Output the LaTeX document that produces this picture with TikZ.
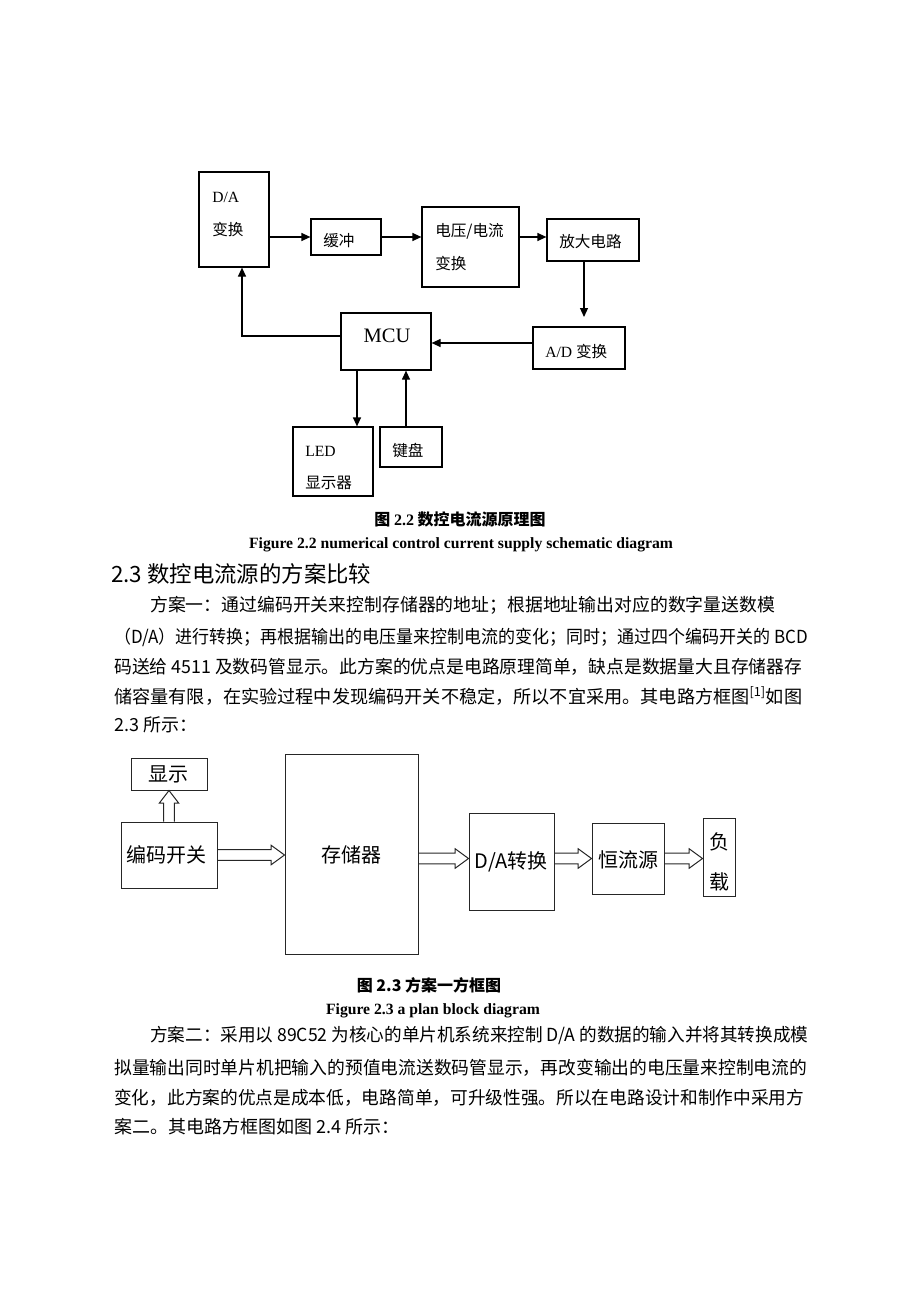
\documentclass[tikz,border=0pt]{standalone}
\usepackage{fontspec}
\usepackage{graphicx}
\setmainfont{Liberation Serif}
\newfontfamily\cjk{Noto Sans CJK SC}
\usetikzlibrary{arrows.meta,calc,fit}
\newcommand\jline[2]{\resizebox{#1}{\height}{#2}}
\begin{document}
\begin{tikzpicture}[x=0.75pt,y=-0.75pt,
  b1/.style={draw, line width=0.9pt, inner sep=0pt},
  a1/.style={line width=0.9pt, -{Triangle[length=6.75pt,width=6pt]}},
  t1/.style={anchor=west, inner sep=0pt, font=\fontsize{11.7pt}{14pt}\selectfont},
  b2/.style={draw=black!85, line width=0.75pt, inner sep=0pt},
  t2/.style={inner sep=0pt, font=\cjk\fontsize{15pt}{18pt}\selectfont},
  h2/.style={draw=black!85, line width=0.75pt},
  hollowR/.style={to path={let \p1=(\tikztostart),\p2=(\tikztotarget) in
     (\x1,\y1+4.1pt) -- (\x2-10pt,\y1+4.1pt) -- (\x2-10pt,\y1+7.3pt) -- (\x2,\y1)
     -- (\x2-10pt,\y1-7.3pt) -- (\x2-10pt,\y1-4.1pt) -- (\x1,\y1-4.1pt)}},
  hollowU/.style={to path={let \p1=(\tikztostart),\p2=(\tikztotarget) in
     (\x1-4.1pt,\y1) -- (\x1-4.1pt,\y2-9.5pt) -- (\x1-7.3pt,\y2-9.5pt) -- (\x1,\y2)
     -- (\x1+7.3pt,\y2-9.5pt) -- (\x1+4.1pt,\y2-9.5pt) -- (\x1+4.1pt,\y1)}},
  bnat/.style={anchor=west, inner sep=0pt, font=\cjk\fontsize{13.5pt}{16pt}\selectfont},
  capc/.style={inner sep=0pt, font=\cjk\bfseries\fontsize{12pt}{14pt}\selectfont},
  cape/.style={inner sep=0pt, font=\bfseries\fontsize{11.75pt}{13pt}\selectfont}
]
\useasboundingbox (0,0) rectangle (920,1302);

% ---------- Figure 2.2 ----------
\node[b1, fit={(199,172) (269,267)}] (da) {};
\node[t1] (daT1) at (212,197) {D/A};
\node[t1] (daT2) at (212,230) {\cjk 变换};
\node[b1, fit={(311,219) (381,255)}] (buf) {};
\node[t1] (bufT) at (323,241) {\cjk 缓冲};
\node[b1, fit={(422,207) (519,287)}] (vi) {};
\node[t1] (viT1) at (435,231) {\cjk 电压/电流};
\node[t1] (viT2) at (435,264) {\cjk 变换};
\node[b1, fit={(547,219) (639,261)}] (amp) {};
\node[t1] (ampT) at (559,242) {\cjk 放大电路};
\node[b1, fit={(341,313) (431,370)}] (mcu) {};
\node[inner sep=0pt, font=\fontsize{15.4pt}{18pt}\selectfont] (mcuT) at (387,336) {MCU};
\node[b1, fit={(533,327) (625,369)}] (ad) {};
\node[t1] (adT) at (545,352) {A/D {\cjk 变换}};
\node[b1, fit={(293,427) (373,496)}] (led) {};
\node[t1] (ledT1) at (305,451) {LED};
\node[t1] (ledT2) at (305,483) {\cjk 显示器};
\node[b1, fit={(380,427) (442,467)}] (kb) {};
\node[t1] (kbT) at (392,451) {\cjk 键盘};

\coordinate (adtop) at (584,317);
\coordinate (ret) at (242,336);
\coordinate (adl) at (533,343);
\draw[a1] (da.east |- buf.west) -- (buf.west);
\draw[a1] (buf.east) -- (vi.west |- buf.east);
\draw[a1] (vi.east |- buf.east) -- (amp.west |- buf.east);
\draw[a1] (amp.south -| adtop) -- (adtop);
\draw[a1] (ad.west |- adl) -- (mcu.east |- adl);
\draw[a1] (mcu.west |- ret) -- (ret) -- (da.south -| ret);
\draw[a1] (mcu.south -| 357,0) -- (led.north -| 357,0);
\draw[a1] (kb.north -| 406,0) -- (mcu.south -| 406,0);

\node[capc] (cap1) at (460,519) {图 {\rmfamily\bfseries 2.2} 数控电流源原理图};
\node[cape] (cap1e) at (461,545) {Figure 2.2 numerical control current supply schematic diagram};

% ---------- heading and paragraph 1 ----------
\node[anchor=west, inner sep=0pt, font=\cjk\fontsize{16.8pt}{20pt}\selectfont] (h23) at (111,574) {2.3 数控电流源的方案比较};
\node[bnat] (p1a) at (150,605) {\jline{468.75pt}{方案一：通过编码开关来控制存储器的地址；根据地址输出对应的数字量送数模}};
\node[bnat] (p1b) at (114,637) {\jline{520.5pt}{（D/A）进行转换；再根据输出的电压量来控制电流的变化；同时；通过四个编码开关的 BCD}};
\node[bnat] (p1c) at (114,667) {\jline{516pt}{码送给 4511 及数码管显示。此方案的优点是电路原理简单，缺点是数据量大且存储器存}};
\node[bnat] (p1d) at (114,696) {\jline{516pt}{储容量有限，在实验过程中发现编码开关不稳定，所以不宜采用。其电路方框图\textsuperscript{[1]}如图}};
\node[bnat] (p1e) at (114,725) {2.3 所示：};

% ---------- Figure 2.3 ----------
\node[b2, fit={(131,758) (207,790)}] (disp) {};
\node[t2] (dispT) at (168,774) {显示};
\node[b2, fit={(121,822) (217,888)}] (enc) {};
\node[t2] (encT) at (166,855) {编码开关};
\node[b2, fit={(285,754) (418,954)}] (mem) {};
\node[t2] (memT) at (351,855) {存储器};
\node[b2, fit={(469,813) (554,910)}] (da2) {};
\node[t2] (da2T) at (511,862) {D/A转换};
\node[b2, fit={(592,823) (664,894)}] (cs) {};
\node[t2] (csT) at (628,860) {恒流源};
\node[b2, fit={(703,818) (735,896)}] (load) {};
\node[t2] (loadT1) at (719,842) {负};
\node[t2] (loadT2) at (719,882) {载};

\draw[h2] (enc.north) to[hollowU] (disp.south);
\draw[h2] (enc.east) to[hollowR] (mem.west |- enc.east);
\draw[h2] (mem.east |- cs.west) to[hollowR] (da2.west |- cs.west);
\draw[h2] (da2.east |- cs.west) to[hollowR] (cs.west);
\draw[h2] (cs.east) to[hollowR] (load.west |- cs.east);

\node[capc] (cap2) at (429,985) {图 2.3 方案一方框图};
\node[cape] (cap2e) at (433,1011) {Figure 2.3 a plan block diagram};

% ---------- paragraph 2 ----------
\node[bnat] (p2a) at (150,1035) {\jline{493.5pt}{方案二：采用以 89C52 为核心的单片机系统来控制 D/A 的数据的输入并将其转换成模}};
\node[bnat] (p2b) at (114,1068) {\jline{519.75pt}{拟量输出同时单片机把输入的预值电流送数码管显示，再改变输出的电压量来控制电流的}};
\node[bnat] (p2c) at (114,1098) {\jline{517.5pt}{变化，此方案的优点是成本低，电路简单，可升级性强。所以在电路设计和制作中采用方}};
\node[bnat] (p2d) at (114,1127) {案二。其电路方框图如图 2.4 所示：};
\end{tikzpicture}
\end{document}
